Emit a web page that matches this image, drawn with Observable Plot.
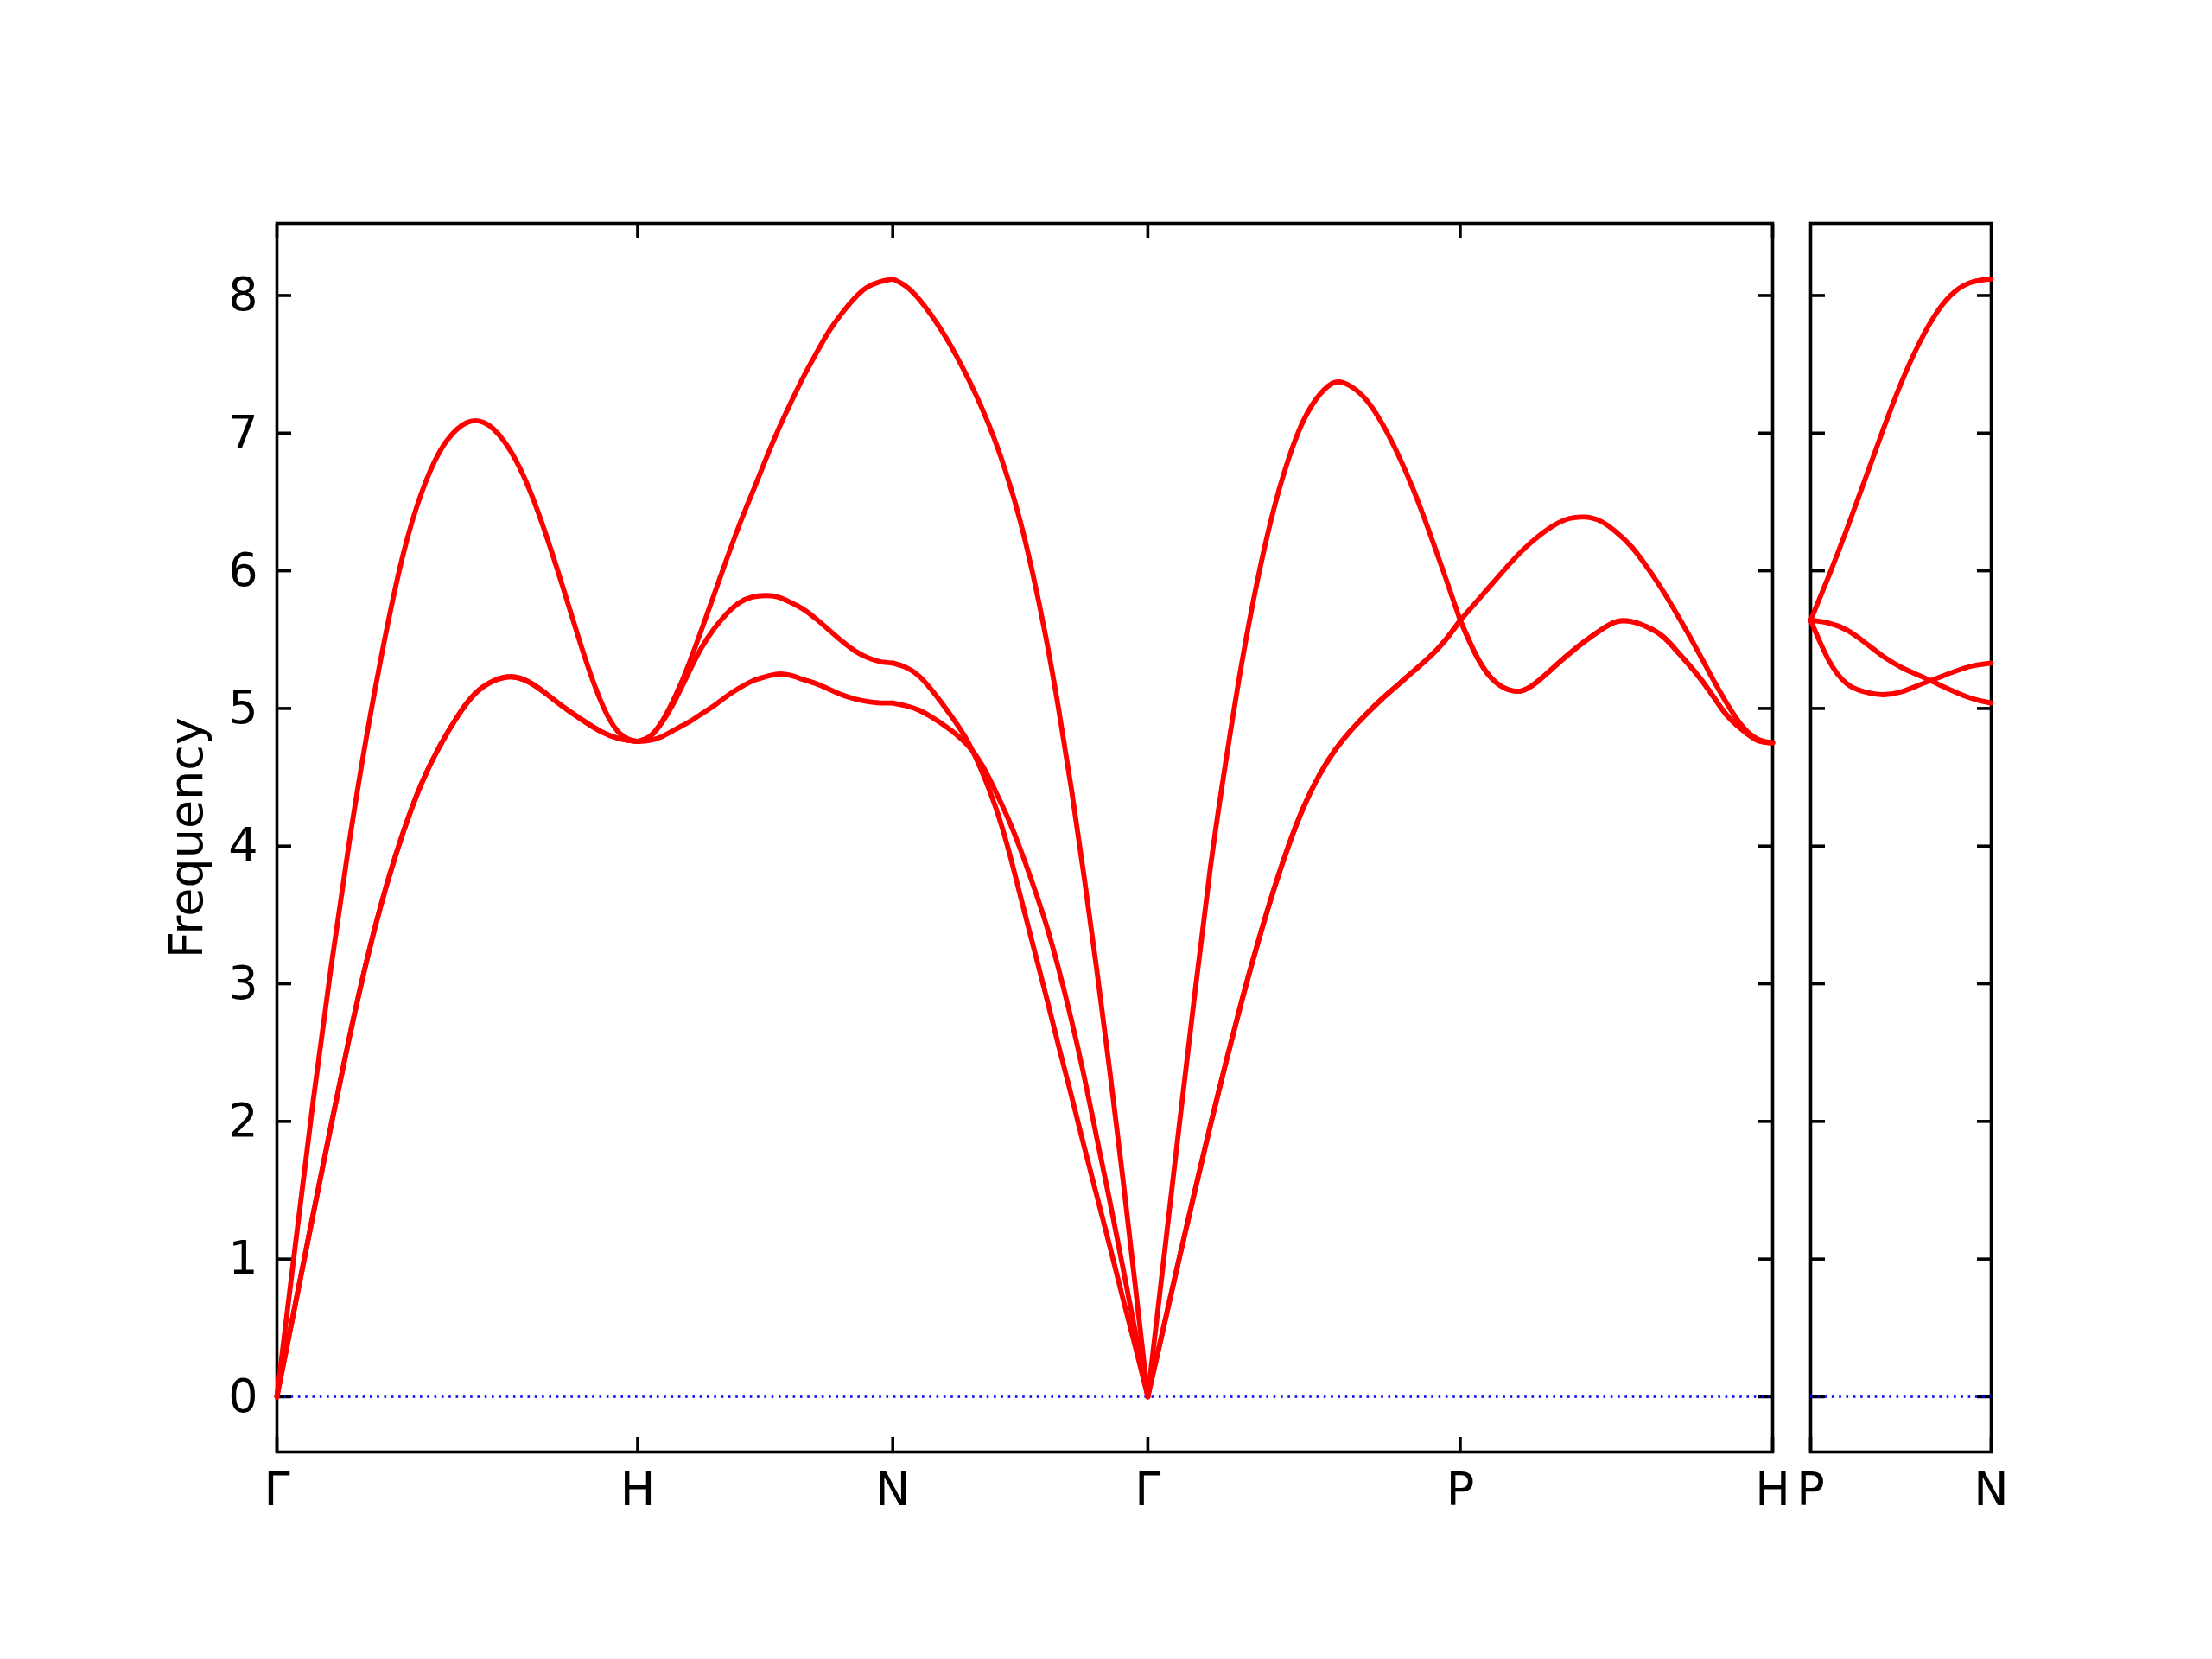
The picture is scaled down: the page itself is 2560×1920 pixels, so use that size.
<!DOCTYPE html>
<html><head><meta charset="utf-8">
<script src="https://cdn.jsdelivr.net/npm/d3@7"></script>
<script src="https://cdn.jsdelivr.net/npm/@observablehq/plot@0.6"></script>
<style>
body{margin:0;background:#fff;}
#chart{position:relative;width:2560px;height:1920px;background:#fff;}
#chart svg{position:absolute;top:0;}
</style></head><body><div id="chart"></div>
<script>
// k-path labels and segment lengths (units of 2π/a)
const mainLabels = ["Γ","H","N","Γ","P","H"];
const mainSegLengths = [1, 0.7071, 0.7071, 0.8660, 0.8660];
const sideLabels = ["P","N"];
const sideSegLength = 0.5;
const yTicks = [0,1,2,3,4,5,6,7,8];
const yLabel = "Frequency";

// sample positions along each segment (fraction of segment)
const t21 = [0,0.05,0.1,0.15,0.2,0.25,0.3,0.35,0.4,0.45,0.5,0.55,0.6,0.65,0.7,0.75,0.8,0.85,0.9,0.95,1];
const t11 = [0,0.1,0.2,0.3,0.4,0.5,0.6,0.7,0.8,0.9,1];

// Γ–H
const GH_L = [0,1.08,2.14,3.12,4.02,4.82,5.52,6.12,6.56,6.86,7.03,7.09,7.03,6.86,6.59,6.23,5.82,5.40,5.04,4.82,4.76];
const GH_T = [0,0.66,1.32,1.97,2.60,3.18,3.68,4.10,4.45,4.72,4.94,5.11,5.20,5.23,5.19,5.10,5.00,4.91,4.83,4.78,4.76];
// H–N
const HN_1 = [4.76,4.80,4.92,5.10,5.32,5.57,5.83,6.09,6.34,6.57,6.80,7.02,7.22,7.41,7.58,7.74,7.87,7.98,8.06,8.10,8.12];
const HN_2 = [4.76,4.80,4.91,5.07,5.26,5.44,5.58,5.69,5.77,5.81,5.82,5.81,5.77,5.72,5.65,5.57,5.49,5.42,5.37,5.34,5.33];
const HN_3 = [4.76,4.77,4.80,4.85,4.90,4.96,5.02,5.09,5.15,5.20,5.23,5.25,5.24,5.21,5.18,5.14,5.10,5.07,5.05,5.04,5.04];
// N–Γ
const NG_1 = [8.12,8.07,7.98,7.86,7.72,7.56,7.38,7.18,6.95,6.68,6.36,5.97,5.52,5.00,4.42,3.78,3.10,2.38,1.62,0.82,0];
const NG_2 = [5.33,5.30,5.24,5.14,5.02,4.89,4.74,4.54,4.30,4.00,3.64,3.28,2.92,2.55,2.19,1.82,1.46,1.10,0.73,0.37,0];
const NG_3 = [5.04,5.02,4.99,4.94,4.88,4.81,4.72,4.59,4.41,4.21,3.98,3.72,3.44,3.11,2.74,2.33,1.88,1.43,0.96,0.48,0];
// Γ–P
const GP_L = [0,0.98,1.96,2.92,3.84,4.62,5.32,5.92,6.42,6.81,7.10,7.28,7.37,7.34,7.24,7.07,6.85,6.59,6.29,5.97,5.64];
const GP_T = [0,0.50,1.00,1.49,1.97,2.43,2.87,3.28,3.66,4.00,4.29,4.52,4.70,4.84,4.96,5.07,5.17,5.27,5.37,5.49,5.64];
// P–H
const PH_U  = [5.64,5.77,5.90,6.03,6.15,6.25,6.33,6.38,6.39,6.36,6.28,6.17,6.02,5.85,5.66,5.46,5.25,5.05,4.88,4.78,4.75];
const PH_Lo = [5.64,5.39,5.22,5.14,5.13,5.20,5.30,5.40,5.49,5.57,5.63,5.63,5.59,5.52,5.40,5.27,5.12,4.96,4.85,4.77,4.75];
// P–N (side panel)
const PN_1 = [5.64,5.96,6.30,6.66,7.02,7.36,7.65,7.88,8.03,8.10,8.12];
const PN_2 = [5.64,5.62,5.57,5.48,5.38,5.30,5.24,5.18,5.12,5.07,5.04];
const PN_3 = [5.64,5.35,5.18,5.12,5.10,5.12,5.17,5.22,5.27,5.31,5.33];

const mainSegments = [
  {t: t21, bands: [GH_L, GH_T, GH_T]},
  {t: t21, bands: [HN_1, HN_2, HN_3]},
  {t: t21, bands: [NG_1, NG_2, NG_3]},
  {t: t21, bands: [GP_L, GP_T, GP_T]},
  {t: t21, bands: [PH_U, PH_Lo, PH_Lo]}
];

const mainData = [];
const mainTicks = [0];
let start = 0;
mainSegments.forEach((s, si) => {
  const len = mainSegLengths[si];
  s.bands.forEach((b, bi) => b.forEach((f, i) => mainData.push({q: start + s.t[i] * len, f, key: si + "-" + bi})));
  start += len;
  mainTicks.push(start);
});
const sideData = [];
[PN_1, PN_2, PN_3].forEach((b, bi) => b.forEach((f, i) => sideData.push({q: t11[i] * sideSegLength, f, key: "pn-" + bi})));
const sideTicks = [0, sideSegLength];

const font = '"DejaVu Sans", sans-serif';
const fs = 54;
const yDomain = [-0.402, 8.524];
const style = {fontFamily: font, fontSize: fs + "px", background: "transparent", overflow: "visible", color: "black"};
const lw = 3.6, tick = -17, bandWidth = 5.8;

const main = Plot.plot({
  width: 2075, height: 1920,
  marginLeft: 320, marginRight: 24, marginTop: 258, marginBottom: 240,
  x: {domain: [0, start]},
  y: {domain: yDomain},
  style,
  marks: [
    Plot.frame({stroke: "black", strokeWidth: lw}),
    Plot.axisY({anchor: "left", ticks: yTicks, tickSize: tick, tickPadding: 39, strokeWidth: lw, fontSize: fs,
      tickFormat: d => String(d), label: yLabel, labelAnchor: "center", labelOffset: 125, labelArrow: "none"}),
    Plot.axisY({anchor: "right", ticks: yTicks, tickSize: tick, strokeWidth: lw, stroke: "black", fill: "none", label: null}),
    Plot.axisX({anchor: "bottom", ticks: mainTicks, tickSize: tick, tickPadding: 40, strokeWidth: lw, fontSize: fs,
      tickFormat: d => mainLabels[mainTicks.indexOf(d)], label: null}),
    Plot.axisX({anchor: "top", ticks: mainTicks, tickSize: tick, strokeWidth: lw, stroke: "black", fill: "none", label: null}),
    Plot.ruleY([0], {stroke: "#0000ff", strokeWidth: 2.5, strokeDasharray: "2.6,5.7"}),
    Plot.line(mainData, {x: "q", y: "f", z: "key", stroke: "#ff0000", strokeWidth: bandWidth, curve: "natural"})
  ]
});
main.style.left = "0px";

const side = Plot.plot({
  width: 485, height: 1920,
  marginLeft: 20, marginRight: 256, marginTop: 258, marginBottom: 240,
  x: {domain: [0, sideSegLength]},
  y: {domain: yDomain},
  style,
  marks: [
    Plot.frame({stroke: "black", strokeWidth: lw}),
    Plot.axisY({anchor: "left", ticks: yTicks, tickSize: tick, strokeWidth: lw, stroke: "black", fill: "none", label: null}),
    Plot.axisY({anchor: "right", ticks: yTicks, tickSize: tick, strokeWidth: lw, stroke: "black", fill: "none", label: null}),
    Plot.axisX({anchor: "bottom", ticks: sideTicks, tickSize: tick, tickPadding: 40, strokeWidth: lw, fontSize: fs,
      tickFormat: d => sideLabels[sideTicks.indexOf(d)], label: null}),
    Plot.ruleY([0], {stroke: "#0000ff", strokeWidth: 2.5, strokeDasharray: "2.6,5.7"}),
    Plot.line(sideData, {x: "q", y: "f", z: "key", stroke: "#ff0000", strokeWidth: bandWidth, curve: "natural"})
  ]
});
side.style.left = "2075px";

const chart = document.getElementById("chart");
chart.appendChild(main);
chart.appendChild(side);
</script>
</body></html>
